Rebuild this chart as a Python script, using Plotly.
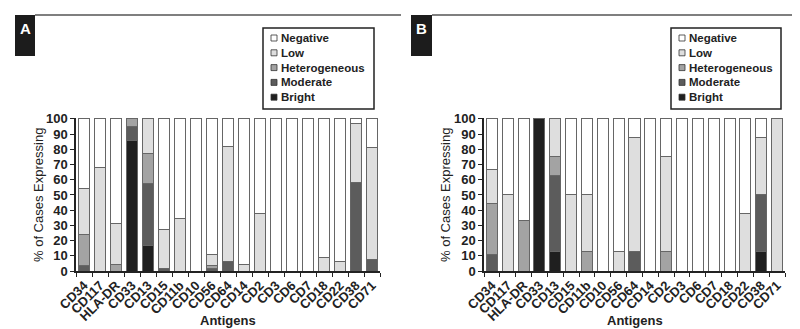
import plotly.graph_objects as go

antigens = ["CD34", "CD117", "HLA-DR", "CD33", "CD13", "CD15", "CD11b", "CD10", "CD56",
            "CD64", "CD14", "CD2", "CD3", "CD6", "CD7", "CD18", "CD22", "CD38", "CD71"]
y_ticks = [0, 10, 20, 30, 40, 50, 60, 70, 80, 90, 100]

# Panel A
bright_a = [0, 0, 0, 86, 16.5, 0, 0, 0, 0, 0, 0, 0, 0, 0, 0, 0, 0, 0, 0]
moderate_a = [3.5, 0, 0, 9, 41, 1.5, 0, 0, 1.5, 6, 0, 0, 0, 0, 0, 0, 0, 58, 7.5]
hetero_a = [20.5, 0, 4, 5, 19.5, 0, 0, 0, 2, 0, 0, 0, 0, 0, 0, 0, 0, 0, 0]
low_a = [30, 68, 27, 0, 23, 25.5, 34.5, 0, 7.5, 76, 4, 38, 0, 0, 0, 9, 6, 39, 73.5]
negative_a = [46, 32, 69, 0, 0, 73, 65.5, 100, 89, 18, 96, 62, 100, 100, 100, 91, 94, 3, 19]

# Panel B
bright_b = [0, 0, 0, 100, 12.5, 0, 0, 0, 0, 0, 0, 0, 0, 0, 0, 0, 0, 12.5, 0]
moderate_b = [11, 0, 0, 0, 50, 0, 0, 0, 0, 12.5, 0, 0, 0, 0, 0, 0, 0, 37.5, 0]
hetero_b = [33.5, 0, 33.5, 0, 12.5, 0, 12.5, 0, 0, 0, 0, 12.5, 0, 0, 0, 0, 0, 0, 0]
low_b = [22.5, 50, 0, 0, 25, 50, 37.5, 0, 12.5, 75.5, 0, 62.5, 0, 0, 0, 0, 37.5, 38, 100]
negative_b = [33, 50, 66.5, 0, 0, 50, 50, 100, 87.5, 12, 100, 25, 100, 100, 100, 100, 62.5, 12, 0]

series_names = ["Bright", "Moderate", "Heterogeneous", "Low", "Negative"]
colors = ["#1f1f1f", "#5c5c5c", "#a3a3a3", "#dedede", "#ffffff"]

FONT = "Liberation Sans, Arial, sans-serif"
W, H = 800, 329

def px(x):
    return x / W

def py(y):
    return 1 - y / H

fig = go.Figure()

panels = [
    ("x", "y", [bright_a, moderate_a, hetero_a, low_a, negative_a]),
    ("x2", "y2", [bright_b, moderate_b, hetero_b, low_b, negative_b]),
]
for xa, ya, data in panels:
    for name, col, vals in zip(series_names, colors, data):
        fig.add_trace(go.Bar(
            x=antigens, y=vals, name=name, xaxis=xa, yaxis=ya, showlegend=False,
            marker=dict(color=col, line=dict(color="#666", width=1)),
            hoverinfo="skip",
        ))

ydom = [py(263), py(110)]
axis_common_x = dict(
    type="category", range=[-0.5, 18.5], showline=True, linecolor="#222", linewidth=1.5,
    ticks="outside", ticklen=4, tickcolor="#222", tickwidth=1.2, tickson="boundaries",
    tickmode="array", tickvals=antigens, ticktext=antigens,
    tickangle=-45, tickfont=dict(family=FONT, size=13, color="#222", weight="bold"),
    showgrid=False, zeroline=False, automargin=False,
)
axis_common_y = dict(
    range=[0, 100.6], tickvals=y_ticks, showline=True, linecolor="#222", linewidth=1.5,
    ticks="outside", ticklen=4, tickcolor="#222", tickwidth=1.2,
    tickfont=dict(family=FONT, size=13, color="#222", weight="bold"),
    showgrid=False, zeroline=False, domain=ydom, automargin=False,
)

fig.update_layout(
    width=W, height=H, margin=dict(l=0, r=0, t=0, b=0),
    paper_bgcolor="white", plot_bgcolor="white",
    barmode="stack", bargap=0.3, showlegend=False,
    xaxis=dict(axis_common_x, domain=[px(68), px(372)], anchor="y"),
    yaxis=dict(axis_common_y, anchor="x"),
    xaxis2=dict(axis_common_x, domain=[px(476), px(777)], anchor="y2"),
    yaxis2=dict(axis_common_y, anchor="x2"),
)

shapes = []
annotations = []
for letter, bx0, bx1, lx1 in [("A", 7, 27, 393), ("B", 403, 424, 792)]:
    shapes.append(dict(type="rect", xref="paper", yref="paper", x0=px(bx0), x1=px(bx1),
                       y0=py(48), y1=py(7), fillcolor="#1c1c1c", line=dict(width=0)))
    shapes.append(dict(type="line", xref="paper", yref="paper", x0=px(bx1), x1=px(lx1),
                       y0=py(7), y1=py(7), line=dict(color="#555", width=1.5)))
    annotations.append(dict(text=letter, xref="paper", yref="paper", x=px((bx0 + bx1) / 2), y=py(20),
                            xanchor="center", yanchor="middle", showarrow=False,
                            font=dict(family=FONT, size=15, color="white", weight="bold")))
for cx in [220, 627]:
    annotations.append(dict(text="Antigens", xref="paper", yref="paper", x=px(cx), y=py(312),
                            xanchor="center", yanchor="middle", showarrow=False,
                            font=dict(family=FONT, size=13, color="#222", weight="bold")))
for tx in [30, 437]:
    annotations.append(dict(text="% of Cases Expressing", xref="paper", yref="paper",
                            x=px(tx), y=py(187), xanchor="center", yanchor="middle",
                            textangle=-90, showarrow=False,
                            font=dict(family=FONT, size=13, color="#222")))

# Hand-built legends (one per panel), top entry = Negative
for lx0, lx1 in [(255, 366), (663, 773)]:
    shapes.append(dict(type="rect", xref="paper", yref="paper", x0=px(lx0), x1=px(lx1),
                       y0=py(101), y1=py(20), fillcolor="white", line=dict(color="#222", width=1.5)))
    for i, (name, col) in enumerate(zip(series_names[::-1], colors[::-1])):
        cy = 30 + i * 14.8
        shapes.append(dict(type="rect", xref="paper", yref="paper",
                           x0=px(lx0 + 8), x1=px(lx0 + 14), y0=py(cy + 3), y1=py(cy - 3),
                           fillcolor=col, line=dict(color="#333", width=0.8)))
        annotations.append(dict(text=name, xref="paper", yref="paper", x=px(lx0 + 16), y=py(cy),
                                xanchor="left", yanchor="middle", showarrow=False,
                                font=dict(family=FONT, size=11.5, color="#222", weight="bold")))

fig.update_layout(shapes=shapes, annotations=annotations)

fig.write_html("out.html")
